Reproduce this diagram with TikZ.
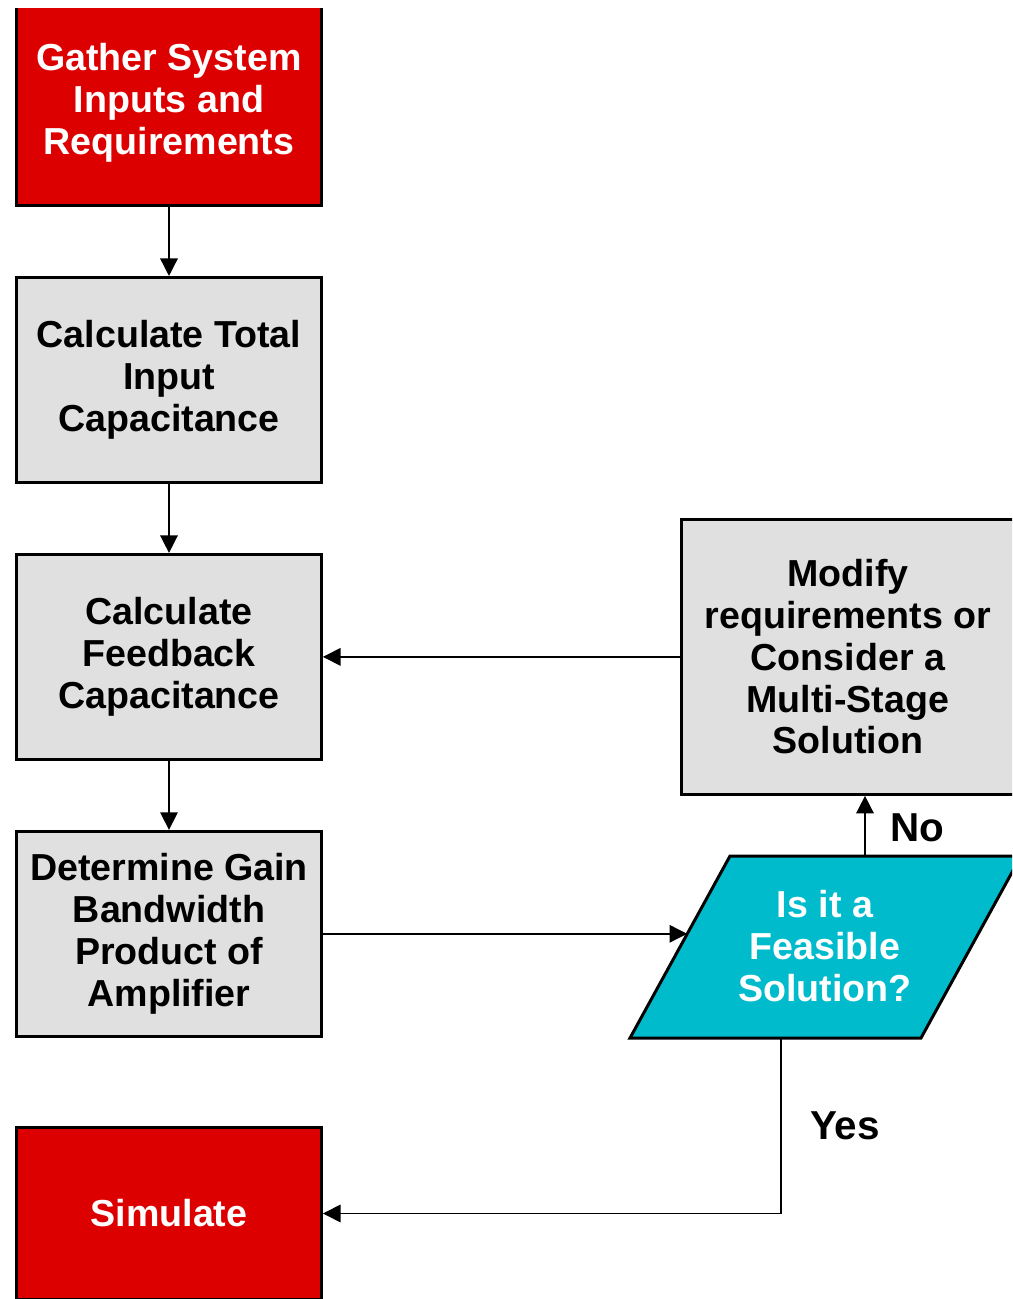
\documentclass[tikz,border=0pt]{standalone}
\usepackage{fontspec}
\setmainfont{Liberation Sans}
\usetikzlibrary{arrows.meta,positioning,calc}
\definecolor{flowRed}{RGB}{221,0,0}
\definecolor{flowGray}{RGB}{224,224,224}
\definecolor{flowCyan}{RGB}{0,187,204}

\begin{document}
\begin{tikzpicture}[x=0.02cm,y=-0.02cm,
  box/.style={draw=black, line width=1.7pt, minimum width=6.1cm, minimum height=4.1cm,
    inner sep=0pt, align=center, font=\fontsize{21.4}{23.8}\selectfont\bfseries},
  redbox/.style={box, fill=flowRed, text=white},
  graybox/.style={box, fill=flowGray, text=black},
  flow/.style={line width=0.85pt, -{Triangle[width=10pt,length=10pt]}},
  answer/.style={font=\fontsize{23}{26}\selectfont\bfseries}]
\useasboundingbox (0,0) rectangle (1012,1299);
\clip (0,8) rectangle (1012,1299);

% main column
\node[redbox] (gather) at (169,103) {Gather System\\Inputs and\\Requirements};
\node[graybox, below=1.38cm of gather] (total) {Calculate Total\\Input\\Capacitance};
\node[graybox, below=1.38cm of total] (feedback) {Calculate\\Feedback\\Capacitance};
\node[graybox, below=1.38cm of feedback] (determine) {Determine Gain\\Bandwidth\\Product of\\Amplifier};
\node[redbox, minimum height=3.45cm, below=1.76cm of determine] (simulate) {Simulate};

% right column
\node[graybox, minimum width=6.66cm, minimum height=5.5cm, right=7.14cm of feedback] (modify)
  {Modify\\requirements or\\Consider a\\Multi-Stage\\Solution};

\coordinate (feasBL) at (630,1038);
\coordinate (feasTL) at (730,856);
\coordinate (feasTR) at (1021,856);
\coordinate (feasBR) at (921,1038);
\draw[fill=flowCyan, line width=1.7pt] (feasBL) -- (feasTL) -- (feasTR) -- (feasBR) -- cycle;
\node[align=center, text=white, font=\fontsize{21.4}{23.8}\selectfont\bfseries] (feasible) at (825,946)
  {Is it a\\Feasible\\Solution?};
\coordinate (feasW) at ($(feasBL)!0.571!(feasTL)$);
\coordinate (feasN) at (865,856);
\coordinate (feasS) at (781,1038);

% connectors
\draw[flow] (gather) -- (total);
\draw[flow] (total) -- (feedback);
\draw[flow] (feedback) -- (determine);
\draw[flow] (modify) -- (feedback);
\draw[flow] (determine.east) -- (determine.east -| feasW);
\draw[flow] (feasN) -- (feasN |- modify.south);
\draw[flow] (feasS) |- (simulate.east);

\node[answer, anchor=west] (no) at (884,828) {No};
\node[answer] (yes) at (845,1126) {Yes};
\end{tikzpicture}
\end{document}
